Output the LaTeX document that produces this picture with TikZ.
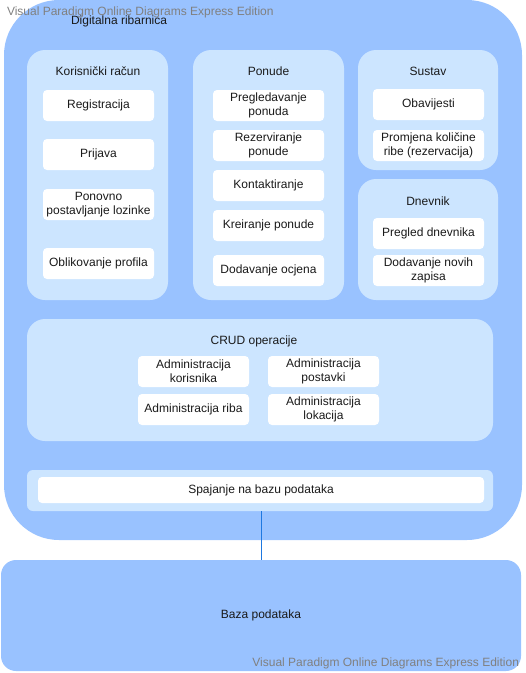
\documentclass[tikz,border=0pt]{standalone}
\usepackage{fontspec}
\setmainfont{Liberation Sans}
\definecolor{outerc}{HTML}{99C2FF}
\definecolor{panelc}{HTML}{CCE5FF}
\definecolor{txtc}{HTML}{1A1A1A}
\definecolor{wmc}{HTML}{808080}
\definecolor{connc}{HTML}{1E78E0}
\begin{document}
\begin{tikzpicture}[x=1pt,y=-1pt,
  every node/.style={font=\fontsize{12}{14}\selectfont, inner sep=0pt, outer sep=0pt, text=txtc},
  outerbox/.style={fill=outerc, rounded corners=55pt},
  panelbox/.style={fill=panelc, rounded corners=18pt},
  itembox/.style={fill=white, rounded corners=4pt, align=center, minimum width=111pt, minimum height=31pt},
  watermark/.style={text=wmc},
  conn/.style={draw=connc, line width=1pt}]
\useasboundingbox (0,0) rectangle (526,673);
% outer container
\node[outerbox, minimum width=518pt, minimum height=540pt] (main) at (263,270) {};
\node[anchor=west] (maintitle) at (71,21) {Digitalna ribarnica};
% Korisnicki racun
\node[panelbox, minimum width=141pt, minimum height=250pt] (kor) at (97.5,175) {};
\node (kort) at (98,71) {Korisnički račun};
\node[itembox] (reg) at (98.5,105.5) {Registracija};
\node[itembox] (pri) at (98.5,154.5) {Prijava};
\node[itembox] (pon) at (98.5,204.5) {Ponovno\\postavljanje lozinke};
\node[itembox] (obl) at (98.5,263.5) {Oblikovanje profila};
% Ponude
\node[panelbox, minimum width=151pt, minimum height=250pt] (ponude) at (268.5,175) {};
\node (ponudet) at (268.5,71) {Ponude};
\node[itembox] (pre) at (268.5,105.5) {Pregledavanje\\ponuda};
\node[itembox] (rez) at (268.5,145.5) {Rezerviranje\\ponude};
\node[itembox] (kon) at (268.5,185.5) {Kontaktiranje};
\node[itembox] (kre) at (268.5,225.5) {Kreiranje ponude};
\node[itembox] (doc) at (268.5,270.5) {Dodavanje ocjena};
% Sustav
\node[panelbox, minimum width=140pt, minimum height=120pt] (sustav) at (428,110) {};
\node (sustavt) at (428,71) {Sustav};
\node[itembox] (oba) at (428.5,104.5) {Obavijesti};
\node[itembox] (pro) at (428.5,145.5) {Promjena količine\\ribe (rezervacija)};
% Dnevnik
\node[panelbox, minimum width=140pt, minimum height=121pt] (dnev) at (428,239.5) {};
\node (dnevt) at (428,201) {Dnevnik};
\node[itembox] (pdn) at (428.5,233.5) {Pregled dnevnika};
\node[itembox] (dnz) at (428.5,270.5) {Dodavanje novih\\zapisa};
% CRUD
\node[panelbox, minimum width=466pt, minimum height=122pt] (crud) at (260,380) {};
\node (crudt) at (254,341) {CRUD operacije};
\node[itembox] (ak) at (193.5,371.5) {Administracija\\korisnika};
\node[itembox] (ap) at (323.5,371.5) {Administracija\\postavki};
\node[itembox] (ar) at (193.5,409.5) {Administracija riba};
\node[itembox] (al) at (323.5,409.5) {Administracija\\lokacija};
% Spajanje
\node[fill=panelc, rounded corners=6pt, minimum width=466pt, minimum height=41pt] (spojp) at (260,490.5) {};
\node[fill=white, rounded corners=4pt, minimum width=446pt, minimum height=26pt] (spoj) at (261,490) {Spajanje na bazu podataka};
% Baza
\node[fill=outerc, rounded corners=15pt, minimum width=520pt, minimum height=111pt] (baza) at (261,615.5) {Baza podataka};
% connector
\draw[conn] (spoj.south |- spojp.south) -- (spoj.south |- baza.north);
% watermarks
\node[watermark, anchor=west] (wm1) at (7,12) {Visual Paradigm Online Diagrams Express Edition};
\node[watermark, anchor=east] (wm2) at (519,663) {Visual Paradigm Online Diagrams Express Edition};
\end{tikzpicture}
\end{document}
